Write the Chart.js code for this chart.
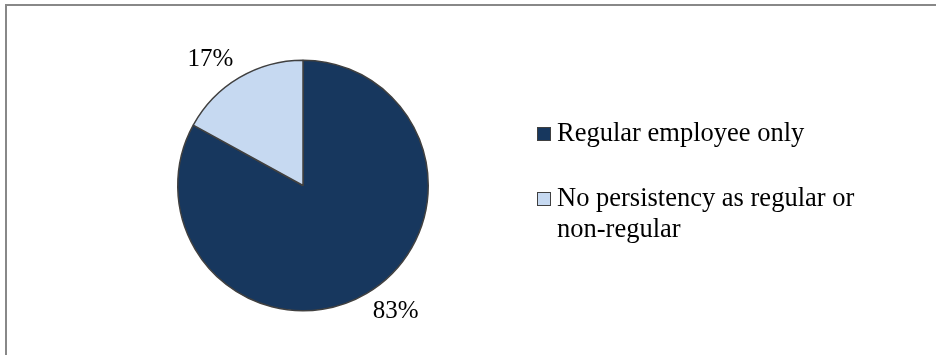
<!DOCTYPE html>
<html>
<head>
<meta charset="utf-8">
<script src="https://cdn.jsdelivr.net/npm/chart.js@4.4.1/dist/chart.umd.min.js"></script>
<style>
  html, body { margin: 0; padding: 0; background: #fff; overflow: hidden; }
  #wrap { position: relative; width: 936px; height: 355px; }
</style>
</head>
<body>
<div id="wrap"><canvas id="pieChart" width="936" height="355"></canvas></div>
<script>
const categories = ['Regular employee only', 'No persistency as regular or non-regular'];
const shares = [83, 17];
const sliceColors = ['#17375E', '#C6D9F1'];

const FONT = '"Liberation Serif", "Times New Roman", serif';
const LABEL_SIZE = 25;
const LEGEND_SIZE = 26.5;

// grey frame, only its top and left edges fall inside the canvas
const framePlugin = {
  id: 'frame',
  beforeDraw(chart) {
    const c = chart.ctx;
    c.save();
    c.strokeStyle = '#888888';
    c.lineWidth = 2;
    c.beginPath();
    c.moveTo(6, chart.height + 2);
    c.lineTo(6, 5);
    c.lineTo(chart.width + 2, 5);
    c.stroke();
    c.restore();
  }
};

// percentage labels just outside each slice
const pctLabels = {
  id: 'pctLabels',
  afterDatasetsDraw(chart) {
    const c = chart.ctx;
    const data = chart.data.datasets[0].data;
    const total = data.reduce((a, b) => a + b, 0);
    c.save();
    c.font = LABEL_SIZE + 'px ' + FONT;
    c.fillStyle = '#000';
    c.textAlign = 'center';
    c.textBaseline = 'middle';
    chart.getDatasetMeta(0).data.forEach((arc, i) => {
      const p = arc.getProps(['x', 'y', 'startAngle', 'endAngle', 'outerRadius'], true);
      const mid = (p.startAngle + p.endAngle) / 2 - 0.1;
      const r = p.outerRadius + 31;
      const txt = Math.round(data[i] / total * 100) + '%';
      c.fillText(txt, p.x + Math.cos(mid) * r, p.y + Math.sin(mid) * r);
    });
    c.restore();
  }
};

// legend on the right with square swatches and wrapped text
const sideLegend = {
  id: 'sideLegend',
  afterDraw(chart) {
    const c = chart.ctx;
    const left = 537, box = 14, textX = 557, maxW = 320, lineH = 31;
    let y = 141;
    c.save();
    c.font = LEGEND_SIZE + 'px ' + FONT;
    c.textBaseline = 'alphabetic';
    chart.data.labels.forEach((label, i) => {
      const words = label.split(' ');
      const lines = [];
      let cur = '';
      words.forEach(w => {
        const test = cur ? cur + ' ' + w : w;
        if (c.measureText(test).width > maxW && cur) { lines.push(cur); cur = w; }
        else cur = test;
      });
      lines.push(cur);

      c.fillStyle = sliceColors[i];
      c.fillRect(left, y - 14, box, box);
      c.strokeStyle = '#404040';
      c.lineWidth = 1;
      c.strokeRect(left + 0.5, y - 13.5, box - 1, box - 1);

      c.fillStyle = '#000';
      lines.forEach((ln, k) => c.fillText(ln, textX, y + k * lineH));
      y += 65 + (lines.length - 1) * lineH;
    });
    c.restore();
  }
};

new Chart(document.getElementById('pieChart'), {
  type: 'pie',
  data: {
    labels: categories,
    datasets: [{
      data: shares,
      backgroundColor: sliceColors,
      borderColor: '#404040',
      borderWidth: 1.5
    }]
  },
  options: {
    responsive: false,
    animation: false,
    layout: { padding: { left: 177, right: 507, top: 59, bottom: 43 } },
    plugins: {
      legend: { display: false },
      tooltip: { enabled: false }
    }
  },
  plugins: [framePlugin, pctLabels, sideLegend]
});
</script>
</body>
</html>
